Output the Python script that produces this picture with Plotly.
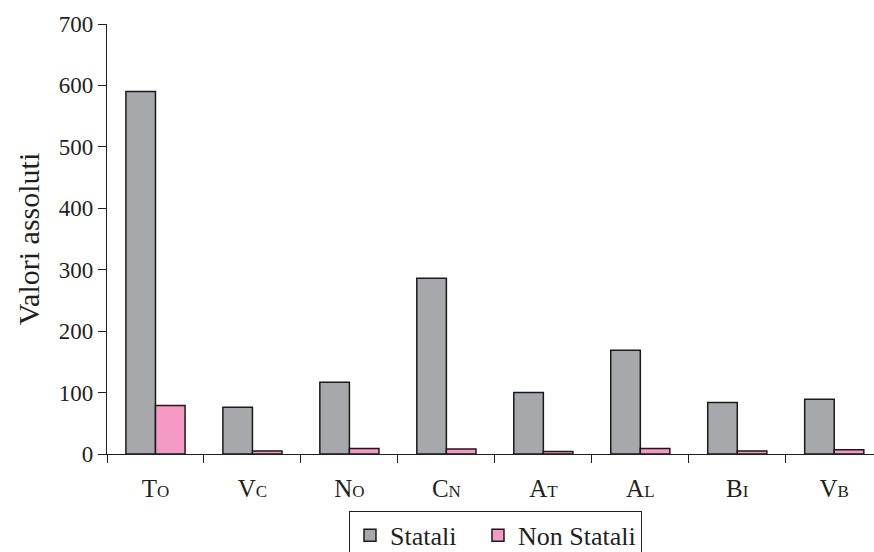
import plotly.graph_objects as go

# Province codes (first letter full size, second letter as small cap)
categories = ["TO", "VC", "NO", "CN", "AT", "AL", "BI", "VB"]
statali = [590, 76, 117, 286, 100, 169, 84, 89]
non_statali = [79, 5, 9, 8, 4, 9, 5, 7]
y_ticks = [0, 100, 200, 300, 400, 500, 600, 700]

FONT = "Liberation Serif, Times New Roman, serif"
INK = "#231f20"


def small_caps(code):
    return f"{code[0]}<span style='font-size:17px'>{code[1]}</span>"


tick_text = [small_caps(c) for c in categories]

fig = go.Figure()
fig.add_trace(go.Bar(
    x=categories, y=statali, name="Statali", legendwidth=83,
    marker=dict(color="#a7a8ab", line=dict(color="#1a1a1a", width=1.5)),
))
fig.add_trace(go.Bar(
    x=categories, y=non_statali, name="Non Statali",
    marker=dict(color="#f49ac2", line=dict(color="#1a1a1a", width=1.5)),
))

fig.update_layout(
    width=874, height=552,
    margin=dict(l=107, r=0, t=24, b=98),
    paper_bgcolor="white", plot_bgcolor="white",
    barmode="group", bargap=0.39, bargroupgap=0,
    font=dict(family=FONT, color=INK),
    showlegend=True,
    legend=dict(
        orientation="h", xref="paper", x=0.5065, xanchor="center",
        yref="container", y=0.0745, yanchor="top",
        bordercolor=INK, borderwidth=1,
        font=dict(family=FONT, size=26, color=INK),
    ),
    xaxis=dict(
        range=[-0.5, 7.41],
        tickmode="array", tickvals=categories, ticktext=tick_text,
        tickson="boundaries", ticks="outside", ticklen=8, tickwidth=1.2,
        tickcolor=INK,
        showline=True, linecolor=INK, linewidth=1.2,
        showgrid=False, zeroline=False,
        tickfont=dict(family=FONT, size=25, color=INK),
        ticklabelstandoff=12,
    ),
    yaxis=dict(
        range=[0, 700],
        tickmode="array", tickvals=y_ticks,
        ticks="outside", ticklen=8, tickwidth=1.2, tickcolor=INK,
        showline=True, linecolor=INK, linewidth=1.2,
        showgrid=False, zeroline=False,
        tickfont=dict(family=FONT, size=23, color=INK),
        title=dict(text="Valori assoluti", standoff=10,
                   font=dict(family=FONT, size=30, color=INK)),
    ),
)

fig.write_html("out.html")
